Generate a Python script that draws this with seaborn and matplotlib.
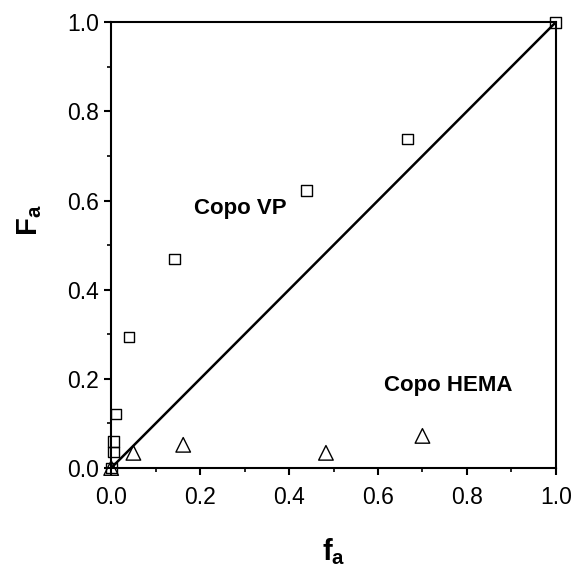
import matplotlib
matplotlib.use("Agg")
import matplotlib.pyplot as plt
import seaborn as sns
from matplotlib.ticker import MultipleLocator, FormatStrFormatter

sns.set_style("white")
plt.rcParams['font.family'] = ['Liberation Sans', 'DejaVu Sans']
plt.rcParams['mathtext.fontset'] = 'custom'
plt.rcParams['mathtext.rm'] = 'Liberation Sans'
plt.rcParams['mathtext.bf'] = 'Liberation Sans:bold'
plt.rcParams['text.color'] = 'black'
plt.rcParams['axes.labelcolor'] = 'black'
plt.rcParams['xtick.color'] = 'black'
plt.rcParams['ytick.color'] = 'black'

# Copo VP (squares)
vp_f = [0.0, 0.005, 0.005, 0.011, 0.04, 0.142, 0.44, 0.667, 1.0]
vp_F = [0.0, 0.036, 0.06, 0.121, 0.294, 0.469, 0.623, 0.738, 1.0]
# Copo HEMA (triangles)
hema_f = [0.0, 0.05, 0.162, 0.483, 0.70]
hema_F = [0.0, 0.034, 0.052, 0.034, 0.072]
# ideal azeotropic line
line_f = [0.0, 1.0]
line_F = [0.0, 1.0]

fig = plt.figure(figsize=(5.76, 5.69), dpi=100)
ax = fig.add_axes([0.193, 0.1775, 0.772, 0.7835])

sns.lineplot(x=line_f, y=line_F, ax=ax, color='black', linewidth=1.8)
sns.scatterplot(x=vp_f, y=vp_F, ax=ax, marker='s', s=60,
                facecolor='none', edgecolor='black', linewidth=1.0, clip_on=False, zorder=3)
sns.scatterplot(x=hema_f, y=hema_F, ax=ax, marker='^', s=110,
                facecolor='none', edgecolor='black', linewidth=1.0, clip_on=False, zorder=3)
for c in ax.collections:
    c.set_facecolor('none')
    c.set_edgecolor('black')
    c.set_clip_on(False)

ax.set_xlim(0, 1.0)
ax.set_ylim(0, 1.0)
ax.xaxis.set_major_locator(MultipleLocator(0.2))
ax.yaxis.set_major_locator(MultipleLocator(0.2))
ax.xaxis.set_minor_locator(MultipleLocator(0.1))
ax.yaxis.set_minor_locator(MultipleLocator(0.1))
ax.xaxis.set_major_formatter(FormatStrFormatter('%.1f'))
ax.yaxis.set_major_formatter(FormatStrFormatter('%.1f'))
ax.tick_params(axis='both', which='major', direction='out', length=5, width=1.5,
               labelsize=16.5, bottom=True, left=True, top=False, right=False)
ax.tick_params(axis='x', which='major', pad=8)
ax.tick_params(axis='y', which='major', pad=4)
ax.tick_params(axis='both', which='minor', direction='out', length=3, width=1.2,
               bottom=True, left=True, top=False, right=False)
for sp in ax.spines.values():
    sp.set_visible(True)
    sp.set_color('black')
    sp.set_linewidth(1.5)

ax.set_xlabel(r'$\mathbf{f}_{\mathbf{a}}$', fontsize=21)
ax.set_ylabel(r'$\mathbf{F}_{\mathbf{a}}$', fontsize=21)
ax.xaxis.set_label_coords(0.5, -0.152)
ax.yaxis.set_label_coords(-0.15, 0.556)

ax.text(0.29, 0.583, 'Copo VP', fontsize=16, fontweight='bold', ha='center', va='center')
ax.text(0.757, 0.186, 'Copo HEMA', fontsize=16, fontweight='bold', ha='center', va='center')

fig.savefig('out.png', dpi=100)
